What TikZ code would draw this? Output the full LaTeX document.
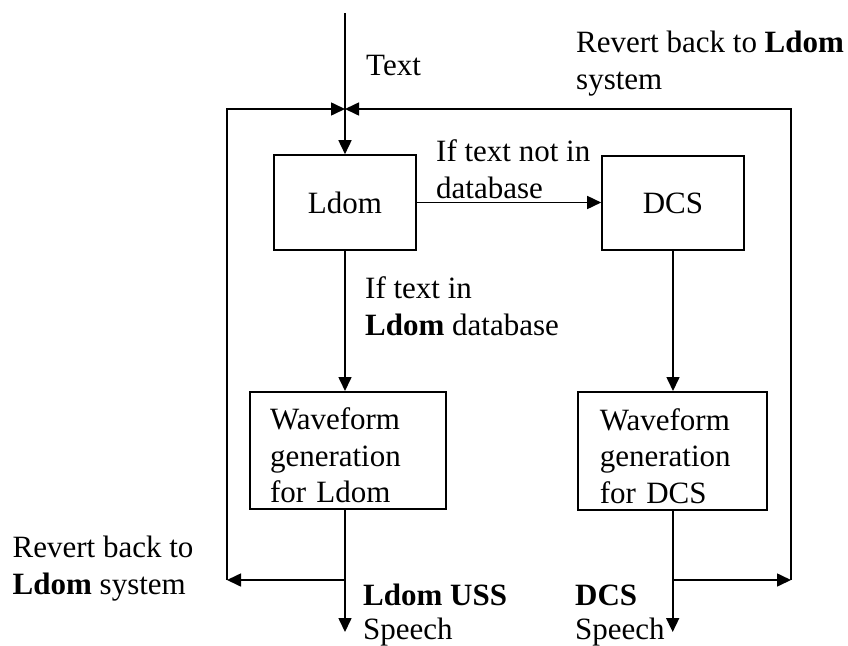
\documentclass[tikz,border=0pt]{standalone}
\usepackage{fontspec}
\setmainfont{Liberation Serif}
\usetikzlibrary{arrows.meta}
\begin{document}
\begin{tikzpicture}[x=1pt,y=-1pt,
  every node/.style={font=\fontsize{31}{37}\selectfont},
  box/.style={draw, line width=1.6pt, inner sep=0pt},
  wavebox/.style={box, align=left, font=\fontsize{31}{36.5}\selectfont,
    text height=32pt, text depth=73pt},
  flow/.style={line width=1.6pt, -{Triangle[length=14pt,width=13pt]}},
  lbl/.style={anchor=base west, inner sep=0pt, align=left}]
\useasboundingbox (0,0) rectangle (848,645);

% processing blocks
\node[box, minimum width=142pt, minimum height=95pt] (ldom) at (345,202.5) {Ldom};
\node[box, minimum width=142pt, minimum height=94pt] (dcs) at (673,203) {DCS};
\node[wavebox, minimum width=196pt, minimum height=117pt,
      text width=156pt, inner xsep=20pt] (wfl) at (348,450.3)
      {Waveform\\generation\\for Ldom};
\node[wavebox, minimum width=189pt, minimum height=118pt,
      text width=145pt, inner xsep=22pt] (wfd) at (672.3,450.8)
      {Waveform\\generation\\for DCS};

% routing points
\coordinate (top) at (345,13);
\coordinate (join) at (345,109);
\coordinate (ltop) at (227,109);
\coordinate (lbot) at (227,580);
\coordinate (rtop) at (791,109);
\coordinate (rbot) at (791,580);
\coordinate (lsplit) at (345,580);
\coordinate (rsplit) at (672.7,580);
\coordinate (lout) at (345,632);
\coordinate (rout) at (672.7,632);

% connectors
\draw[flow] (top) -- (ldom.north);
\draw[flow] (lbot) -- (ltop) -- (join);
\draw[flow] (rbot) -- (rtop) -- (join);
\draw[flow] (ldom.east) -- (ldom.east -| dcs.west);
\draw[flow] (ldom.south) -- (ldom.south |- wfl.north);
\draw[flow] (dcs.south) -- (dcs.south |- wfd.north);
\draw[flow] (lsplit |- wfl.south) -- (lout);
\draw[flow] (lsplit) -- (lbot);
\draw[flow] (rsplit |- wfd.south) -- (rout);
\draw[flow] (rsplit) -- (rbot);

% labels (anchored on the baseline of their last line)
\node[lbl] (intext) at (366,75.5) {Text};
\node[lbl] (revtop) at (576,89.5) {Revert back to \textbf{Ldom}\\system};
\node[lbl] (notin) at (436,198) {If text not in\\database};
\node[lbl] (isin) at (365,335) {If text in\\\textbf{Ldom} database};
\node[lbl] (revbot) at (12.5,594) {Revert back to\\\textbf{Ldom} system};
\node[lbl, font=\fontsize{31}{34}\selectfont] (outl) at (363,639) {\textbf{Ldom USS}\\Speech};
\node[lbl, font=\fontsize{31}{34}\selectfont] (outd) at (575,639) {\textbf{DCS}\\Speech};
\end{tikzpicture}
\end{document}
